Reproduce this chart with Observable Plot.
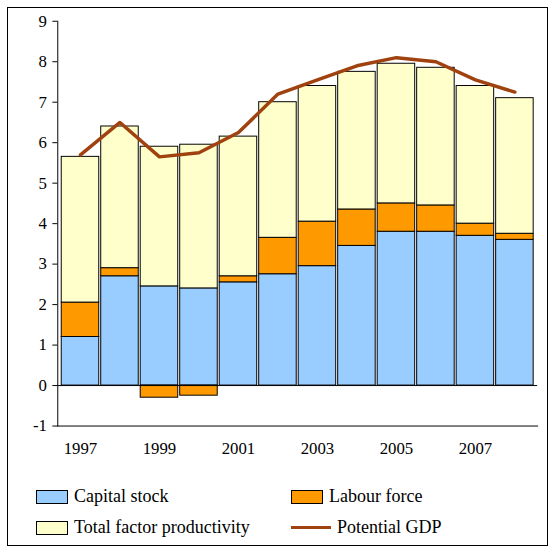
<!DOCTYPE html>
<html><head><meta charset="utf-8">
<script src="https://cdn.jsdelivr.net/npm/d3@7"></script>
<script src="https://cdn.jsdelivr.net/npm/@observablehq/plot@0.6"></script>
<style>
body{margin:0;background:#fff;font-family:"Liberation Serif","Times New Roman","DejaVu Serif",serif;}
#box{position:absolute;left:7px;top:7px;width:539px;height:537px;border:1.5px solid #000;}
#chart{position:absolute;left:-7px;top:-7px;}
#chart svg, #chart svg g, #chart svg text{font-family:"Liberation Serif","Times New Roman","DejaVu Serif",serif !important;}
.lg{position:absolute;font-size:18px;display:flex;align-items:center;}
.sw{width:30px;height:12px;border:1px solid #000;margin-right:6px;}
.ln{width:40px;height:3px;background:#a0420f;margin-right:6px;}
</style></head>
<body><div id="box"><div id="chart"></div>
<div class="lg" style="left:28px;top:478px"><div class="sw" style="background:#99ccff"></div>Capital stock</div>
<div class="lg" style="left:283px;top:478px"><div class="sw" style="background:#ff9900"></div>Labour force</div>
<div class="lg" style="left:28px;top:509px"><div class="sw" style="background:#ffffcc"></div>Total factor productivity</div>
<div class="lg" style="left:283px;top:509px"><div class="ln"></div>Potential GDP</div>
</div>
<script>
const years = [1997,1998,1999,2000,2001,2002,2003,2004,2005,2006,2007,2008];
const capital = [1.2,2.7,2.45,2.4,2.55,2.75,2.95,3.45,3.8,3.8,3.7,3.6];
const labour = [0.85,0.2,-0.3,-0.25,0.15,0.9,1.1,0.9,0.7,0.65,0.3,0.15];
const tfp = [3.6,3.5,3.45,3.55,3.45,3.35,3.35,3.4,3.45,3.4,3.4,3.35];
const gdp = [5.7,6.5,5.65,5.75,6.25,7.2,7.55,7.9,8.1,8.0,7.55,7.25];

const comps = [["Capital stock",capital],["Labour force",labour],["Total factor productivity",tfp]];
const rows = comps.flatMap(([k,v]) => years.map((y,i) => ({year:y, comp:k, value:v[i]})));
const line = years.map((y,i) => ({year:y, gdp:gdp[i]}));
const serif = "Liberation Serif, Times New Roman, DejaVu Serif, serif";

const plot = Plot.plot({
  width:553, height:472,
  marginLeft:57, marginRight:10, marginTop:20, marginBottom:42,
  style:{fontFamily:serif, fontSize:"17px", color:"#000"},
  x:{type:"band", domain:years, padding:0.06, label:null},
  y:{domain:[-1,9], label:null},
  color:{domain:comps.map(c=>c[0]), range:["#99ccff","#ff9900","#ffffcc"]},
  marks:[
    Plot.barY(rows, {x:"year", y:"value", fill:"comp", stroke:"#000", strokeWidth:1}),
    Plot.ruleY([0], {strokeWidth:1}),
    Plot.frame({anchor:"left"}),
    Plot.frame({anchor:"bottom"}),
    Plot.axisY({ticks:10, tickSize:5, tickPadding:6, label:null, fontFamily:serif, fontSize:17, tickFormat:d => String(d)}),
    Plot.axisX({tickSize:0, tickPadding:16, label:null, fontFamily:serif, fontSize:17, tickFormat:d => d % 2 ? String(d) : ""}),
    Plot.line(line, {x:"year", y:"gdp", stroke:"#a0420f", strokeWidth:3.5})
  ]
});
document.getElementById("chart").appendChild(plot);
</script></body></html>
